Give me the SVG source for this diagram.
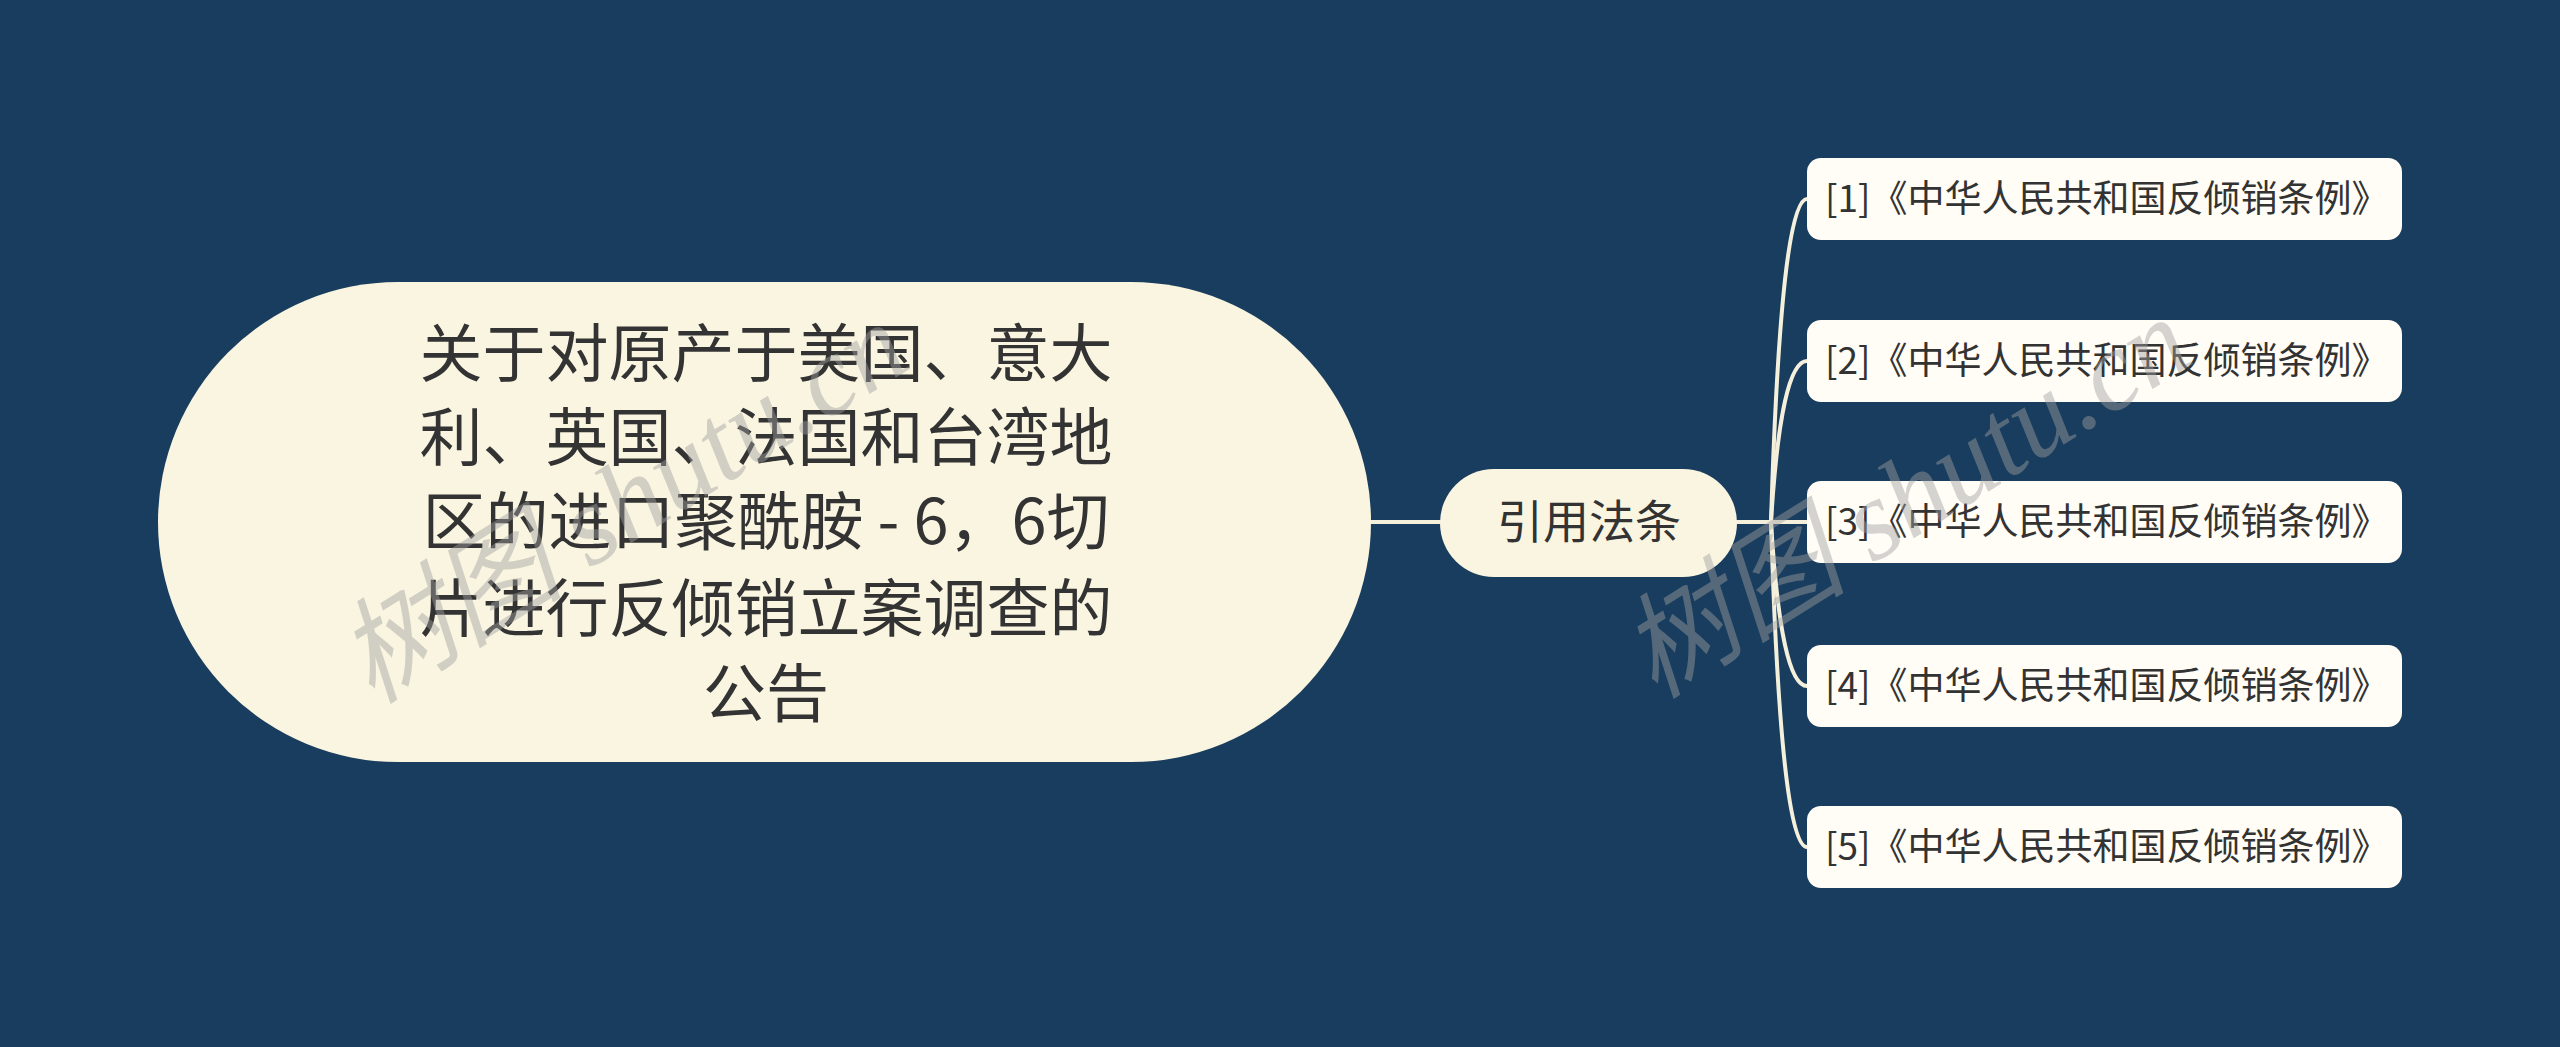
<svg xmlns="http://www.w3.org/2000/svg" width="2560" height="1047" viewBox="0 0 2560 1047">
<style>
.bg{fill:#183d5e}
.pill{fill:#faf5e1}
.box{fill:#fffdf6}
.t{font-family:"Noto Sans CJK SC","Noto Sans",sans-serif;fill:#333333}
.root{font-size:63px;text-anchor:middle}
.sub{font-size:46px;text-anchor:middle}
.leaf{font-size:37px}
.ln{fill:none;stroke:#f5f0dc;stroke-width:4;stroke-linecap:round}
.wm{font-family:"Liberation Serif","Noto Sans CJK SC",serif;font-style:italic;font-size:114px;fill:#a0a0a0;fill-opacity:0.45}
</style>
<rect class="bg" x="0" y="0" width="2560" height="1047"/>
<g id="connectors">
<path class="ln" d="M1371 522 L1440 522"/>
<path class="ln" d="M1737 522 L1771 522"/>
<path class="ln" d="M1771 522 Q1781 199 1807 199"/>
<path class="ln" d="M1771 522 Q1781 361 1807 361"/>
<path class="ln" d="M1771 522 L1807 522"/>
<path class="ln" d="M1771 522 Q1781 686 1807 686"/>
<path class="ln" d="M1771 522 Q1781 847 1807 847"/>
</g>
<g id="root">
<rect class="pill" x="158" y="282" width="1213" height="480" rx="240" ry="240"/>
<text class="t root" x="766" y="376">关于对原产于美国、意大</text>
<text class="t root" x="766" y="460">利、英国、法国和台湾地</text>
<text class="t root" x="766" y="544">区的进口聚酰胺 - 6，6切</text>
<text class="t root" x="766" y="631">片进行反倾销立案调查的</text>
<text class="t root" x="766" y="716">公告</text>
</g>
<g id="sub">
<rect class="pill" x="1440" y="469" width="297" height="108" rx="54" ry="54"/>
<text class="t sub" x="1589" y="538">引用法条</text>
</g>
<g id="leaf1">
<rect class="box" x="1807" y="158" width="595" height="82" rx="14" ry="14"/>
<text class="t leaf" x="1825" y="212">[1]《中华人民共和国反倾销条例》</text>
</g>
<g id="leaf2">
<rect class="box" x="1807" y="320" width="595" height="82" rx="14" ry="14"/>
<text class="t leaf" x="1825" y="374">[2]《中华人民共和国反倾销条例》</text>
</g>
<g id="leaf3">
<rect class="box" x="1807" y="481" width="595" height="82" rx="14" ry="14"/>
<text class="t leaf" x="1825" y="535">[3]《中华人民共和国反倾销条例》</text>
</g>
<g id="leaf4">
<rect class="box" x="1807" y="645" width="595" height="82" rx="14" ry="14"/>
<text class="t leaf" x="1825" y="699">[4]《中华人民共和国反倾销条例》</text>
</g>
<g id="leaf5">
<rect class="box" x="1807" y="806" width="595" height="82" rx="14" ry="14"/>
<text class="t leaf" x="1825" y="860">[5]《中华人民共和国反倾销条例》</text>
</g>
<g id="watermarks">
<text class="wm" transform="translate(372 705) rotate(-32)">树图 shutu.cn</text>
<text class="wm" transform="translate(1655 700) rotate(-32)">树图 shutu.cn</text>
</g>
</svg>
